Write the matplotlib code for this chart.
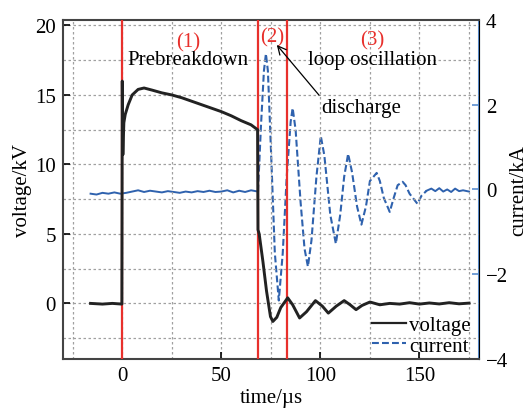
import matplotlib
matplotlib.use('Agg')
import matplotlib.pyplot as plt

plt.rcParams['font.family'] = ['Liberation Serif', 'DejaVu Serif']
plt.rcParams['font.size'] = 15

# voltage (kV)
t_volt = [-16, -10, -5, -0.2, 0, 0.15, 0.3, 0.8, 1.5, 3, 5, 8, 11, 15, 20, 25, 30, 35, 40,
          45, 50, 55, 60, 65, 68.3, 68.5, 69.1, 71, 72.8, 74.8, 76, 78, 80, 83.5, 86, 89.5,
          93, 97.5, 101, 104, 108, 112, 115, 118, 121, 125, 130, 135, 140, 145, 150, 155,
          160, 165, 170, 175]
volt = [0.0, -0.05, 0.0, -0.05, 16.0, 12.0, 10.7, 13.0, 13.6, 14.3, 15.0, 15.4, 15.5, 15.35,
        15.15, 15.0, 14.8, 14.55, 14.3, 14.05, 13.8, 13.5, 13.15, 12.85, 12.5, 5.3, 5.0, 3.0,
        0.9, -0.95, -1.3, -1.0, -0.3, 0.4, -0.1, -1.05, -0.6, 0.2, -0.2, -0.7, -0.2, 0.2,
        -0.1, -0.45, -0.15, 0.1, -0.1, 0.0, -0.05, 0.05, -0.05, 0.03, -0.04, 0.05, -0.03, 0.02]

# current (kA) before breakdown
t_pre = [-16, -13, -10, -7, -4, -1, 2, 5, 8, 11, 14, 17, 20, 23, 26, 29, 32, 35, 38, 41,
         44, 47, 50, 53, 56, 59, 62, 65, 68.5]
cur_pre = [-0.1, -0.12, -0.08, -0.1, -0.07, -0.1, -0.08, -0.05, -0.02, -0.06, -0.03, -0.05,
           -0.07, -0.04, -0.06, -0.08, -0.05, -0.07, -0.04, -0.06, -0.03, -0.06, -0.05, -0.02,
           -0.07, -0.03, -0.06, -0.02, -0.05]

# current (kA) discharge and loop oscillation
t_osc = [68.5, 70, 71.5, 72.5, 73.5, 75, 77, 79, 81, 83, 85, 86, 87.5, 90, 92, 93.7, 95.5,
         98, 100.2, 102, 105, 107.8, 110, 112, 114, 116, 118.5, 120.7, 123, 125, 128.4,
         130, 132, 135, 137, 139, 141.5, 143, 145, 149, 151, 153.6]
cur_osc = [-0.05, 1.5, 2.8, 3.2, 2.8, 1.0, -1.5, -2.62, -1.5, 0.3, 1.6, 1.92, 1.4, -0.3,
           -1.4, -1.82, -1.2, 0.3, 1.26, 0.8, -0.6, -1.28, -0.6, 0.3, 0.84, 0.4, -0.4, -0.83,
           -0.4, 0.2, 0.39, 0.2, -0.2, -0.53, -0.2, 0.1, 0.18, 0.1, -0.1, -0.34, -0.15, -0.03]

# current (kA) tail
t_tail = [153.6, 156, 158, 160, 162, 164, 166, 168, 170, 172, 175]
cur_tail = [-0.03, 0.02, -0.04, 0.03, -0.05, 0.0, -0.06, 0.02, -0.04, -0.02, -0.05]

stage_lines = [0, 68.5, 83]

blue = '#2f62ae'
red = '#e8302c'

fig = plt.figure(figsize=(5.28, 4.10), dpi=100)
ax = fig.add_axes([0.119, 0.122, 0.788, 0.827])
ax2 = ax.twinx()

ax.set_xlim(-30, 180)
ax.set_ylim(-4, 20.4)
ax2.set_ylim(-4, 4)

ax.set_xticks([0, 50, 100, 150])
ax.set_xticks([-25, 25, 75, 125, 175], minor=True)
ax.set_yticks([0, 5, 10, 15, 20])
ax.set_yticks([-2.5, 2.5, 7.5, 12.5, 17.5], minor=True)
ax2.set_yticks([-4, -2, 0, 2, 4])

ax.grid(True, which='both', color='#a0a0a0', linestyle=(0, (2, 2)), linewidth=0.9)
ax.set_axisbelow(True)
ax.tick_params(which='major', direction='in', length=5, width=1.2, pad=5)
ax.tick_params(which='minor', length=0)
ax2.tick_params(direction='in', length=5, width=1.2, colors='#5a8ed0', labelcolor='black', pad=5)

for s in ['left', 'bottom', 'top']:
    ax.spines[s].set_linewidth(1.5)
    ax.spines[s].set_color('#444444')
ax2.spines['right'].set_color('#5a8ed0')
ax2.spines['right'].set_linewidth(1.5)
for s in ['left', 'bottom', 'top']:
    ax2.spines[s].set_visible(False)

for x in stage_lines:
    ax.axvline(x, color=red, linewidth=1.6, zorder=3)

ax2.plot(t_pre, cur_pre, color=blue, linewidth=1.4)
l_cur, = ax2.plot(t_osc, cur_osc, color=blue, linewidth=1.5, dashes=(3.3, 1.5))
ax2.plot(t_tail, cur_tail, color=blue, linewidth=1.4)
l_volt, = ax2.plot([], [], color='#222222', linewidth=1.6)

ax.plot(t_volt, volt, color='#222222', linewidth=2.1, zorder=4)
ax.set_zorder(ax2.get_zorder() + 1)
ax.patch.set_visible(False)

ax.text(33.2, 18.8, '(1)', color=red, ha='center', va='center')
ax.text(33.2, 17.55, 'Prebreakdown', ha='center', va='center')
ax.text(75.5, 19.2, '(2)', color=red, ha='center', va='center')
ax.text(126.4, 19.0, '(3)', color=red, ha='center', va='center')
ax.text(126.4, 17.55, 'loop oscillation', ha='center', va='center')
ax.annotate('discharge', xy=(78, 18.6), xytext=(100.5, 14.1), ha='left', va='center',
            arrowprops=dict(arrowstyle='->', color='black', linewidth=0.9,
                            shrinkA=0, shrinkB=0, relpos=(0, 1)))

ax.set_xlabel('time/µs')
ax.xaxis.set_label_coords(0.5, -0.085)
ax.set_ylabel('voltage/kV')
ax.yaxis.set_label_coords(-0.075, 0.5)
ax2.set_ylabel('current/kA')
ax2.yaxis.set_label_coords(1.073, 0.5)

ax.legend([l_volt, l_cur], ['voltage', 'current'], loc='lower right', frameon=False,
          handlelength=1.6, handletextpad=0.15, labelspacing=0.05,
          borderaxespad=0.0, bbox_to_anchor=(1.0, -0.015))

fig.savefig('out.png', dpi=100)
